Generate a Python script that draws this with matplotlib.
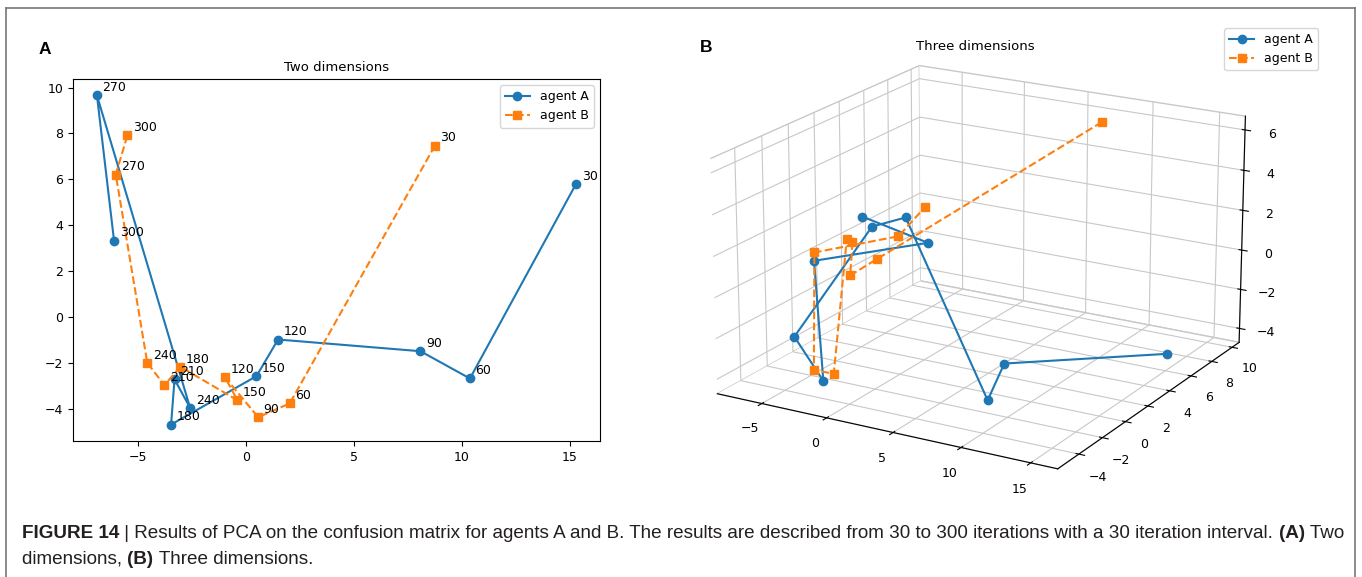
import matplotlib
matplotlib.use("Agg")
import matplotlib.pyplot as plt
from matplotlib.lines import Line2D

# iterations of the confusion matrix PCA
iters = [30, 60, 90, 120, 150, 180, 210, 240, 270, 300]

# agent A (PC1, PC2, PC3)
a_x = [15.29, 10.38, 8.09, 1.50, 0.50, -3.45, -3.29, -2.57, -6.88, -6.09]
a_y = [5.80, -2.69, -1.50, -0.99, -2.59, -4.70, -2.73, -3.97, 9.66, 3.33]
a_z = [-3.75, -1.80, -4.34, 3.54, 3.49, -1.61, -4.49, 1.93, -2.13, 1.34]

# agent B (PC1, PC2, PC3)
b_x = [8.76, 2.04, 0.58, -0.96, -0.38, -3.02, -3.76, -4.55, -6.01, -5.47]
b_y = [7.47, -3.78, -4.38, -2.63, -3.64, -2.18, -2.98, -2.01, 6.21, 7.92]
b_z = [6.45, 2.52, 1.75, 2.60, 3.13, -4.30, -3.92, 1.45, -0.57, 0.46]

W, H = 1362, 577
BLUE, ORANGE = "#1f77b4", "#ff7f0e"

plt.rcParams["font.size"] = 9
plt.rcParams["grid.color"] = "#c8c8c8"
plt.rcParams["grid.linewidth"] = 0.8

fig = plt.figure(figsize=(W / 100, H / 100), dpi=100)


def fx(px):
    return px / W


def fy(py):
    return 1 - py / H


# ---- panel A : two dimensions
ax1 = fig.add_axes([fx(73), fy(441), fx(600) - fx(73), fy(79) - fy(441)])
ax1.plot(a_x, a_y, "o-", color=BLUE, label="agent A")
ax1.plot(b_x, b_y, "s--", color=ORANGE, label="agent B")
for xs, ys in ((a_x, a_y), (b_x, b_y)):
    for it, x, y in zip(iters, xs, ys):
        ax1.annotate(str(it), (x, y), xytext=(4, 3), textcoords="offset points", fontsize=9)
ax1.set_title("Two dimensions", fontsize=9.5)
ax1.set_xticks([-5, 0, 5, 10, 15])
ax1.set_yticks([-4, -2, 0, 2, 4, 6, 8, 10])
ax1.legend(loc="upper right", fontsize=9)

# ---- panel B : three dimensions
# square box, flatter view + box aspect to mimic the stretched old-style 3D panel
ax3 = fig.add_axes([fx(685), fy(552.5), fx(1267) - fx(685), fy(-29.5) - fy(552.5)],
                   projection="3d")
ax3.view_init(elev=18.8, azim=-60)
ax3.set_box_aspect((0.985, 1, 0.624))
ax3.plot(a_x, a_y, a_z, "o-", color=BLUE, label="agent A")
ax3.plot(b_x, b_y, b_z, "s--", color=ORANGE, label="agent B")
ax3.set_xticks([-5, 0, 5, 10, 15])
ax3.set_yticks([-4, -2, 0, 2, 4, 6, 8, 10])
ax3.set_zticks([-4, -2, 0, 2, 4, 6])
for axis in (ax3.xaxis, ax3.yaxis, ax3.zaxis):
    axis.set_pane_color((1, 1, 1, 1))
    axis.pane.set_edgecolor("#c8c8c8")
ax3.tick_params(labelsize=9)
ax3.legend(loc="upper right", bbox_to_anchor=(fx(1318), fy(28)),
           bbox_transform=fig.transFigure, borderaxespad=0, fontsize=9)
fig.text(fx(975), fy(47), "Three dimensions", ha="center", va="center", fontsize=9.5)

# panel letters
fig.text(fx(45), fy(50), "A", ha="center", va="center", fontsize=12.5,
         fontweight="bold", family=["Liberation Sans", "DejaVu Sans"])
fig.text(fx(706), fy(48), "B", ha="center", va="center", fontsize=12.5,
         fontweight="bold", family=["Liberation Sans", "DejaVu Sans"])

# frame around the figure
for xs, ys in (([6, 6], [8, 577]), ([6, 1355], [8, 8]), ([1355, 1355], [8, 577])):
    fig.add_artist(Line2D([fx(v) for v in xs], [fy(v) for v in ys],
                          color="#777777", linewidth=1.2, transform=fig.transFigure))

# caption with bold pieces
cap_font = ["Liberation Sans Narrow", "Liberation Sans", "DejaVu Sans"]
renderer = fig.canvas.get_renderer()


def rich_line(x0, y0, parts):
    x = fx(x0)
    for s, bold in parts:
        t = fig.text(x, fy(y0), s, fontsize=13.55, family=cap_font, color="#231f20",
                     fontweight="bold" if bold else "normal", va="center")
        x += t.get_window_extent(renderer).width / W


rich_line(22, 534, [
    ("FIGURE 14", True), (" | Results of PCA on the confusion matrix for agents A and B. "
                          "The results are described from 30 to 300 iterations with a 30 "
                          "iteration interval. ", False),
    ("(A)", True), (" Two", False)])
rich_line(22, 559, [("dimensions, ", False), ("(B)", True), (" Three dimensions.", False)])

fig.savefig("out.png", dpi=100)
